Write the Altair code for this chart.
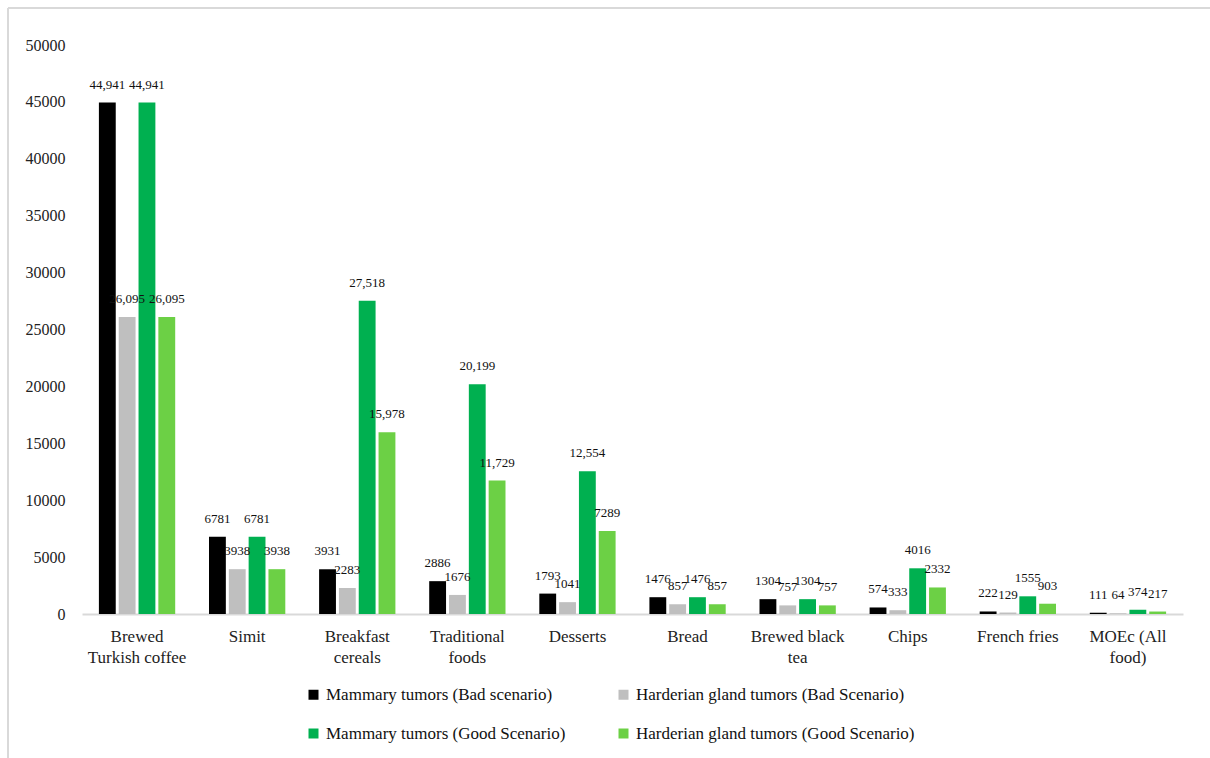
import altair as alt
import pandas as pd

categories = ["Brewed|Turkish coffee", "Simit", "Breakfast|cereals", "Traditional|foods",
              "Desserts", "Bread", "Brewed black|tea", "Chips", "French fries", "MOEc (All|food)"]
series = ["Mammary tumors (Bad scenario)", "Harderian gland tumors (Bad Scenario)",
          "Mammary tumors (Good Scenario)", "Harderian gland tumors (Good Scenario)"]
mammary_bad = [44941, 6781, 3931, 2886, 1793, 1476, 1304, 574, 222, 111]
harderian_bad = [26095, 3938, 2283, 1676, 1041, 857, 757, 333, 129, 64]
mammary_good = [44941, 6781, 27518, 20199, 12554, 1476, 1304, 4016, 1555, 374]
harderian_good = [26095, 3938, 15978, 11729, 7289, 857, 757, 2332, 903, 217]
colors = ["#000000", "#BFBFBF", "#00B050", "#6CD045"]
y_ticks = list(range(0, 50001, 5000))

rows = []
for s_idx, (s_name, vals) in enumerate(zip(series, [mammary_bad, harderian_bad, mammary_good, harderian_good])):
    for c, v in zip(categories, vals):
        rows.append({"category": c, "series": s_name, "order": s_idx, "value": v})
df = pd.DataFrame(rows)

FONT = "Liberation Serif"

x_enc = alt.X("category:N", sort=categories,
              scale=alt.Scale(paddingInner=0.28, paddingOuter=0.14),
              axis=alt.Axis(title=None, labelAngle=0, labelExpr="split(datum.label, '|')",
                            labelFont=FONT, labelFontSize=17, labelColor="#222222",
                            labelLineHeight=21, labelPadding=14, labelBaseline="top",
                            domainColor="#D9D9D9", domainWidth=2, ticks=False))
xoff_enc = alt.XOffset("series:N", sort=series,
                       scale=alt.Scale(paddingInner=0.15, paddingOuter=0.075))

base = alt.Chart(df)

bars = base.mark_bar().encode(
    x=x_enc,
    xOffset=xoff_enc,
    y=alt.Y("value:Q", scale=alt.Scale(domain=[0, 50000], nice=False),
            axis=alt.Axis(title=None, values=y_ticks, format="d", grid=False, domain=False,
                          ticks=False, labelFont=FONT, labelFontSize=16, labelColor="#222222",
                          labelPadding=17)),
    color=alt.Color("series:N", sort=series,
                    scale=alt.Scale(domain=series, range=colors),
                    legend=alt.Legend(title=None, orient="none", legendX=223, legendY=641,
                                      direction="horizontal", columns=2, columnPadding=49,
                                      rowPadding=21, symbolType="square", symbolSize=100,
                                      symbolStrokeWidth=0, labelFont=FONT, labelFontSize=17,
                                      labelColor="#111111", labelOffset=4, padding=0,
                                      labelLimit=400)),
)

labels = base.transform_calculate(
    lbl="datum.value >= 10000 ? format(datum.value, ',') : '' + datum.value"
).mark_text(font=FONT, fontSize=13, baseline="bottom", dy=-11, color="#111111").encode(
    x=alt.X("category:N", sort=categories),
    xOffset=alt.XOffset("series:N", sort=series),
    y="value:Q",
    text="lbl:N",
)

frame_df = pd.DataFrame({"k": [0]})
left_line = alt.Chart(frame_df).mark_rule(color="#D9D9D9", strokeWidth=2).encode(
    x=alt.value(-74), y=alt.value(-37), y2=alt.value(713))
top_line = alt.Chart(frame_df).mark_rule(color="#D9D9D9", strokeWidth=2).encode(
    x=alt.value(-74), x2=alt.value(1128), y=alt.value(-37))

chart = alt.layer(left_line, top_line, bars, labels).properties(
    width=1101, height=569,
    background="white",
    autosize=alt.AutoSizeParams(type="none"),
    padding={"left": 82, "top": 45, "right": 27, "bottom": 144},
).configure_view(stroke=None)

chart.save("out.html", embed_options={"renderer": "svg", "actions": False})
